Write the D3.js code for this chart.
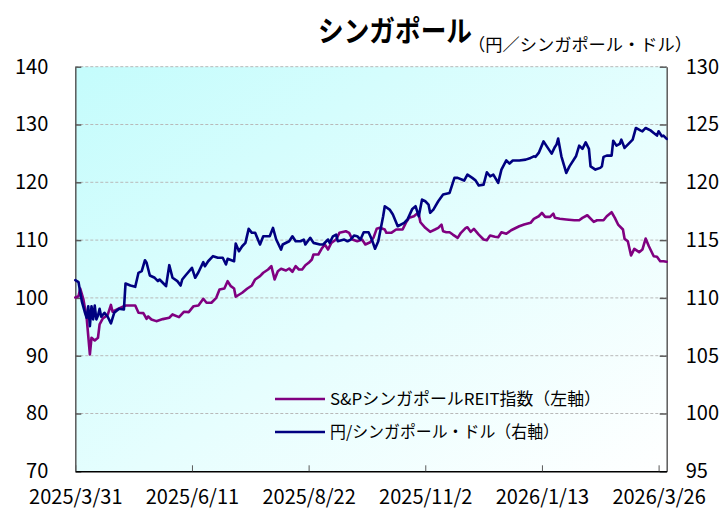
<!DOCTYPE html>
<html><head><meta charset="utf-8">
<script src="https://cdn.jsdelivr.net/npm/d3@7"></script>
<style>
body{margin:0;background:#fff;}
svg{display:block;font-family:"Noto Sans CJK JP","Noto Sans",sans-serif;}
</style>
</head><body>
<svg id="chart" width="724" height="512"></svg>
<script>
// ---- data ----
const titleText = "シンガポール";
const subtitleText = "（円／シンガポール・ドル）";
const seriesNames = ["S&PシンガポールREIT指数（左軸）", "円/シンガポール・ドル（右軸）"];
const xTickLabels = ["2025/3/31","2025/6/11","2025/8/22","2025/11/2","2026/1/13","2026/3/26"];
const xDomain = ["2025/3/31","2026/3/31"];
const leftTicks = [70,80,90,100,110,120,130,140];
const rightTicks = [95,100,105,110,115,120,125,130];

const reitDates = ["2025/3/31","2025/4/2","2025/4/3","2025/4/5","2025/4/7","2025/4/9","2025/4/10","2025/4/12","2025/4/14","2025/4/15","2025/4/17","2025/4/20","2025/4/22","2025/4/23","2025/4/27","2025/5/1","2025/5/5","2025/5/7","2025/5/9","2025/5/12","2025/5/14","2025/5/15","2025/5/17","2025/5/20","2025/5/24","2025/5/28","2025/5/30","2025/6/3","2025/6/6","2025/6/9","2025/6/12","2025/6/15","2025/6/18","2025/6/20","2025/6/23","2025/6/26","2025/6/28","2025/7/1","2025/7/3","2025/7/5","2025/7/7","2025/7/8","2025/7/12","2025/7/15","2025/7/18","2025/7/20","2025/7/23","2025/7/25","2025/7/28","2025/7/30","2025/8/1","2025/8/3","2025/8/5","2025/8/8","2025/8/10","2025/8/12","2025/8/14","2025/8/16","2025/8/18","2025/8/20","2025/8/22","2025/8/24","2025/8/25","2025/8/28","2025/8/30","2025/9/1","2025/9/3","2025/9/5","2025/9/8","2025/9/10","2025/9/14","2025/9/16","2025/9/18","2025/9/21","2025/9/24","2025/9/26","2025/9/29","2025/10/1","2025/10/3","2025/10/5","2025/10/8","2025/10/9","2025/10/12","2025/10/15","2025/10/19","2025/10/21","2025/10/23","2025/10/26","2025/10/28","2025/10/29","2025/10/30","2025/11/2","2025/11/5","2025/11/8","2025/11/10","2025/11/12","2025/11/13","2025/11/15","2025/11/17","2025/11/19","2025/11/22","2025/11/24","2025/11/27","2025/11/28","2025/11/30","2025/12/2","2025/12/5","2025/12/8","2025/12/10","2025/12/12","2025/12/15","2025/12/17","2025/12/19","2025/12/22","2025/12/25","2025/12/30","2026/1/2","2026/1/6","2026/1/8","2026/1/11","2026/1/13","2026/1/15","2026/1/18","2026/1/20","2026/1/21","2026/1/24","2026/1/28","2026/2/2","2026/2/5","2026/2/7","2026/2/10","2026/2/14","2026/2/16","2026/2/20","2026/2/22","2026/2/25","2026/2/27","2026/3/1","2026/3/4","2026/3/5","2026/3/7","2026/3/9","2026/3/11","2026/3/14","2026/3/16","2026/3/18","2026/3/20","2026/3/23","2026/3/25","2026/3/27","2026/3/29","2026/3/31"];
const reitValues = [100.08,100.30,101.63,99.73,96.57,90.22,93.11,92.64,93.11,95.41,96.45,97.05,98.78,97.60,98.17,98.69,98.69,98.69,97.43,97.36,96.39,96.79,96.27,95.98,96.33,96.57,97.14,96.67,97.60,97.54,98.57,98.69,99.85,99.16,99.16,100.02,101.46,101.63,102.89,102.03,101.63,100.20,100.89,101.58,102.15,103.19,103.76,104.35,104.91,105.49,103.19,104.62,105.04,104.74,105.09,104.52,105.49,104.91,104.91,105.66,106.07,106.64,107.51,107.51,108.49,109.24,108.37,109.53,110.10,111.26,111.53,111.26,110.10,109.81,110.10,109.24,109.63,110.39,111.95,112.12,111.83,111.26,111.26,111.83,111.83,112.99,113.85,114.13,114.59,114.42,113.09,112.12,111.43,111.83,112.12,112.69,111.53,111.36,111.36,110.96,110.39,111.26,112.12,112.23,111.43,111.95,110.96,110.10,109.98,110.79,110.57,110.50,111.36,111.09,111.71,112.40,112.69,112.99,113.68,114.13,114.71,114.02,114.02,114.59,113.85,113.68,113.56,113.44,113.44,113.85,114.30,113.16,113.44,113.44,114.13,114.82,113.85,112.69,111.83,110.22,109.81,107.33,108.49,107.91,108.37,110.27,108.94,107.21,107.11,106.35,106.35,106.25];

const fxDates = ["2025/3/31","2025/4/2","2025/4/4","2025/4/6","2025/4/7","2025/4/8","2025/4/9","2025/4/10","2025/4/11","2025/4/12","2025/4/13","2025/4/14","2025/4/15","2025/4/16","2025/4/18","2025/4/20","2025/4/22","2025/4/24","2025/4/27","2025/4/30","2025/5/1","2025/5/4","2025/5/7","2025/5/9","2025/5/11","2025/5/13","2025/5/14","2025/5/16","2025/5/19","2025/5/21","2025/5/22","2025/5/24","2025/5/26","2025/5/28","2025/5/30","2025/6/2","2025/6/4","2025/6/5","2025/6/7","2025/6/11","2025/6/13","2025/6/15","2025/6/18","2025/6/19","2025/6/21","2025/6/24","2025/6/27","2025/6/30","2025/7/2","2025/7/3","2025/7/7","2025/7/8","2025/7/10","2025/7/12","2025/7/14","2025/7/16","2025/7/18","2025/7/20","2025/7/23","2025/7/25","2025/7/29","2025/7/31","2025/8/2","2025/8/5","2025/8/6","2025/8/10","2025/8/12","2025/8/14","2025/8/17","2025/8/19","2025/8/20","2025/8/23","2025/8/25","2025/8/29","2025/8/31","2025/9/3","2025/9/4","2025/9/6","2025/9/8","2025/9/9","2025/9/13","2025/9/15","2025/9/17","2025/9/19","2025/9/21","2025/9/23","2025/9/25","2025/9/28","2025/9/30","2025/10/2","2025/10/4","2025/10/7","2025/10/8","2025/10/11","2025/10/13","2025/10/16","2025/10/20","2025/10/22","2025/10/25","2025/10/27","2025/10/29","2025/10/31","2025/11/2","2025/11/4","2025/11/5","2025/11/7","2025/11/10","2025/11/13","2025/11/17","2025/11/20","2025/11/22","2025/11/26","2025/11/28","2025/12/1","2025/12/3","2025/12/5","2025/12/8","2025/12/10","2025/12/12","2025/12/14","2025/12/17","2025/12/19","2025/12/22","2025/12/24","2025/12/26","2025/12/30","2026/1/3","2026/1/6","2026/1/8","2026/1/9","2026/1/11","2026/1/14","2026/1/16","2026/1/19","2026/1/21","2026/1/22","2026/1/23","2026/1/25","2026/1/28","2026/1/30","2026/2/3","2026/2/5","2026/2/7","2026/2/9","2026/2/11","2026/2/12","2026/2/15","2026/2/18","2026/2/19","2026/2/20","2026/2/22","2026/2/25","2026/2/26","2026/2/28","2026/3/2","2026/3/3","2026/3/5","2026/3/7","2026/3/10","2026/3/12","2026/3/15","2026/3/16","2026/3/18","2026/3/21","2026/3/23","2026/3/25","2026/3/26","2026/3/28","2026/3/29","2026/3/31"];
const fxValues = [111.53,111.36,109.72,108.71,108.28,109.28,107.56,109.28,108.14,109.34,108.14,108.48,109.06,108.37,108.71,108.37,107.79,108.71,109.06,109.00,111.25,111.07,110.96,112.17,112.31,113.26,113.04,111.94,111.74,111.45,111.59,111.31,111.01,112.83,111.74,111.45,111.07,111.59,111.94,112.60,111.74,112.22,113.09,112.74,113.17,113.61,113.47,113.47,112.89,113.38,113.17,114.70,114.04,114.47,114.76,115.97,115.63,115.63,114.62,115.33,115.33,116.06,115.05,114.18,114.62,114.90,115.33,114.90,114.90,115.05,114.62,115.20,114.76,114.62,114.62,115.05,114.76,115.33,115.48,114.90,115.05,114.90,115.05,115.39,115.33,115.05,115.68,115.68,115.05,114.25,114.90,117.06,117.93,117.64,117.21,116.20,116.49,116.78,117.70,117.93,117.06,118.51,118.36,118.07,117.36,117.64,118.36,118.94,119.08,120.38,120.38,120.15,120.67,120.38,120.17,119.72,119.80,120.87,120.52,120.67,119.95,121.10,121.90,121.62,121.88,121.88,121.96,122.11,122.25,122.20,122.54,123.54,123.11,122.48,123.06,123.26,123.78,122.25,120.81,121.38,122.25,123.17,122.89,123.46,122.89,121.38,121.10,121.25,121.38,122.20,122.31,122.31,123.60,123.17,123.32,123.69,122.97,123.26,123.69,124.70,124.47,124.41,124.70,124.49,124.27,124.04,124.41,123.98,124.04,123.75];

// ---- chart ----
const parse = d3.timeParse("%Y/%m/%d");
const svg = d3.select("#chart");
const m = {l: 75.3, r: 666.7, t: 66.7, b: 471.3};
const colors = {reit: "#800080", fx: "#000080"};

const x = d3.scaleTime().domain(xDomain.map(parse)).range([m.l, m.r]);
const yL = d3.scaleLinear().domain([70, 140]).range([m.b, m.t]);
const yR = d3.scaleLinear().domain([95, 130]).range([m.b, m.t]);

const defs = svg.append("defs");
const grad = defs.append("linearGradient").attr("id", "bg")
  .attr("x1", 0).attr("y1", 0).attr("x2", 1).attr("y2", 1);
grad.append("stop").attr("offset", "0%").attr("stop-color", "#c4fcfc");
grad.append("stop").attr("offset", "55%").attr("stop-color", "#e6fefe");
grad.append("stop").attr("offset", "100%").attr("stop-color", "#ffffff");

svg.append("rect").attr("x", m.l).attr("y", m.t)
  .attr("width", m.r - m.l).attr("height", m.b - m.t).attr("fill", "url(#bg)");

// gridlines
svg.append("g").selectAll("line").data(leftTicks.filter(v => v > 70)).join("line")
  .attr("x1", m.l).attr("x2", m.r)
  .attr("y1", d => yL(d)).attr("y2", d => yL(d))
  .attr("stroke", "#b8b8b8").attr("stroke-width", 1).attr("stroke-dasharray", "3,2");

// axes
const fontSize = 20;
const gL = svg.append("g").attr("transform", `translate(${m.l},0)`)
  .call(d3.axisLeft(yL).tickValues(leftTicks).tickSizeInner(-6).tickSizeOuter(0).tickPadding(27));
const gR = svg.append("g").attr("transform", `translate(${m.r},0)`)
  .call(d3.axisRight(yR).tickValues(rightTicks).tickSizeInner(-7).tickSizeOuter(0).tickPadding(19));
const gB = svg.append("g").attr("transform", `translate(0,${m.b})`)
  .call(d3.axisBottom(x).tickValues(xTickLabels.map(parse)).tickSizeInner(-6).tickSizeOuter(0).tickPadding(19)
    .tickFormat((d, i) => xTickLabels[i]));
[gL, gR, gB].forEach(g => {
  g.selectAll("text").attr("font-size", fontSize).attr("fill", "#000")
    .attr("font-family", '"Noto Sans CJK JP",sans-serif');
  g.attr("font-family", null).attr("font-size", null);
});
gL.select(".domain").attr("stroke", "#5a5a5a").attr("stroke-width", 1.5);
gL.selectAll(".tick line").attr("stroke", "#5a5a5a").attr("stroke-width", 1.5);
gR.select(".domain").attr("stroke", "#5a5a5a").attr("stroke-width", 1.5);
gR.selectAll(".tick line").attr("stroke", "#5a5a5a").attr("stroke-width", 1.5);
gB.select(".domain").attr("stroke", "#000").attr("stroke-width", 1.5);
gB.selectAll(".tick line").attr("stroke", "#5a5a5a").attr("stroke-width", 1);

// lines
const reitData = reitDates.map((d, i) => ({date: parse(d), v: reitValues[i]}));
const fxData = fxDates.map((d, i) => ({date: parse(d), v: fxValues[i]}));
svg.append("path").datum(reitData)
  .attr("fill", "none").attr("stroke", colors.reit).attr("stroke-width", 2.6)
  .attr("stroke-linejoin", "round").attr("stroke-linecap", "round")
  .attr("d", d3.line().x(d => x(d.date)).y(d => yL(d.v)));
svg.append("path").datum(fxData)
  .attr("fill", "none").attr("stroke", colors.fx).attr("stroke-width", 2.6)
  .attr("stroke-linejoin", "round").attr("stroke-linecap", "round")
  .attr("d", d3.line().x(d => x(d.date)).y(d => yR(d.v)));

// legend
const legend = [
  {name: seriesNames[0], color: colors.reit, y: 399, len: 271},
  {name: seriesNames[1], color: colors.fx, y: 432, len: 229}
];
const lg = svg.append("g");
legend.forEach(it => {
  lg.append("line").attr("x1", 275).attr("x2", 325).attr("y1", it.y).attr("y2", it.y)
    .attr("stroke", it.color).attr("stroke-width", 2.6);
  lg.append("text").attr("x", 330).attr("y", it.y + 6).attr("font-size", 16.5)
    .attr("textLength", it.len).attr("lengthAdjust", "spacingAndGlyphs")
    .attr("fill", "#000").text(it.name);
});

// titles
svg.append("text").attr("x", 318).attr("y", 42).attr("font-size", 29).attr("font-weight", "bold")
  .attr("textLength", 154).attr("lengthAdjust", "spacingAndGlyphs").attr("fill", "#000").text(titleText);
svg.append("text").attr("x", 468).attr("y", 51).attr("font-size", 17)
  .attr("textLength", 224).attr("lengthAdjust", "spacingAndGlyphs").attr("fill", "#000").text(subtitleText);
</script>
</body></html>
